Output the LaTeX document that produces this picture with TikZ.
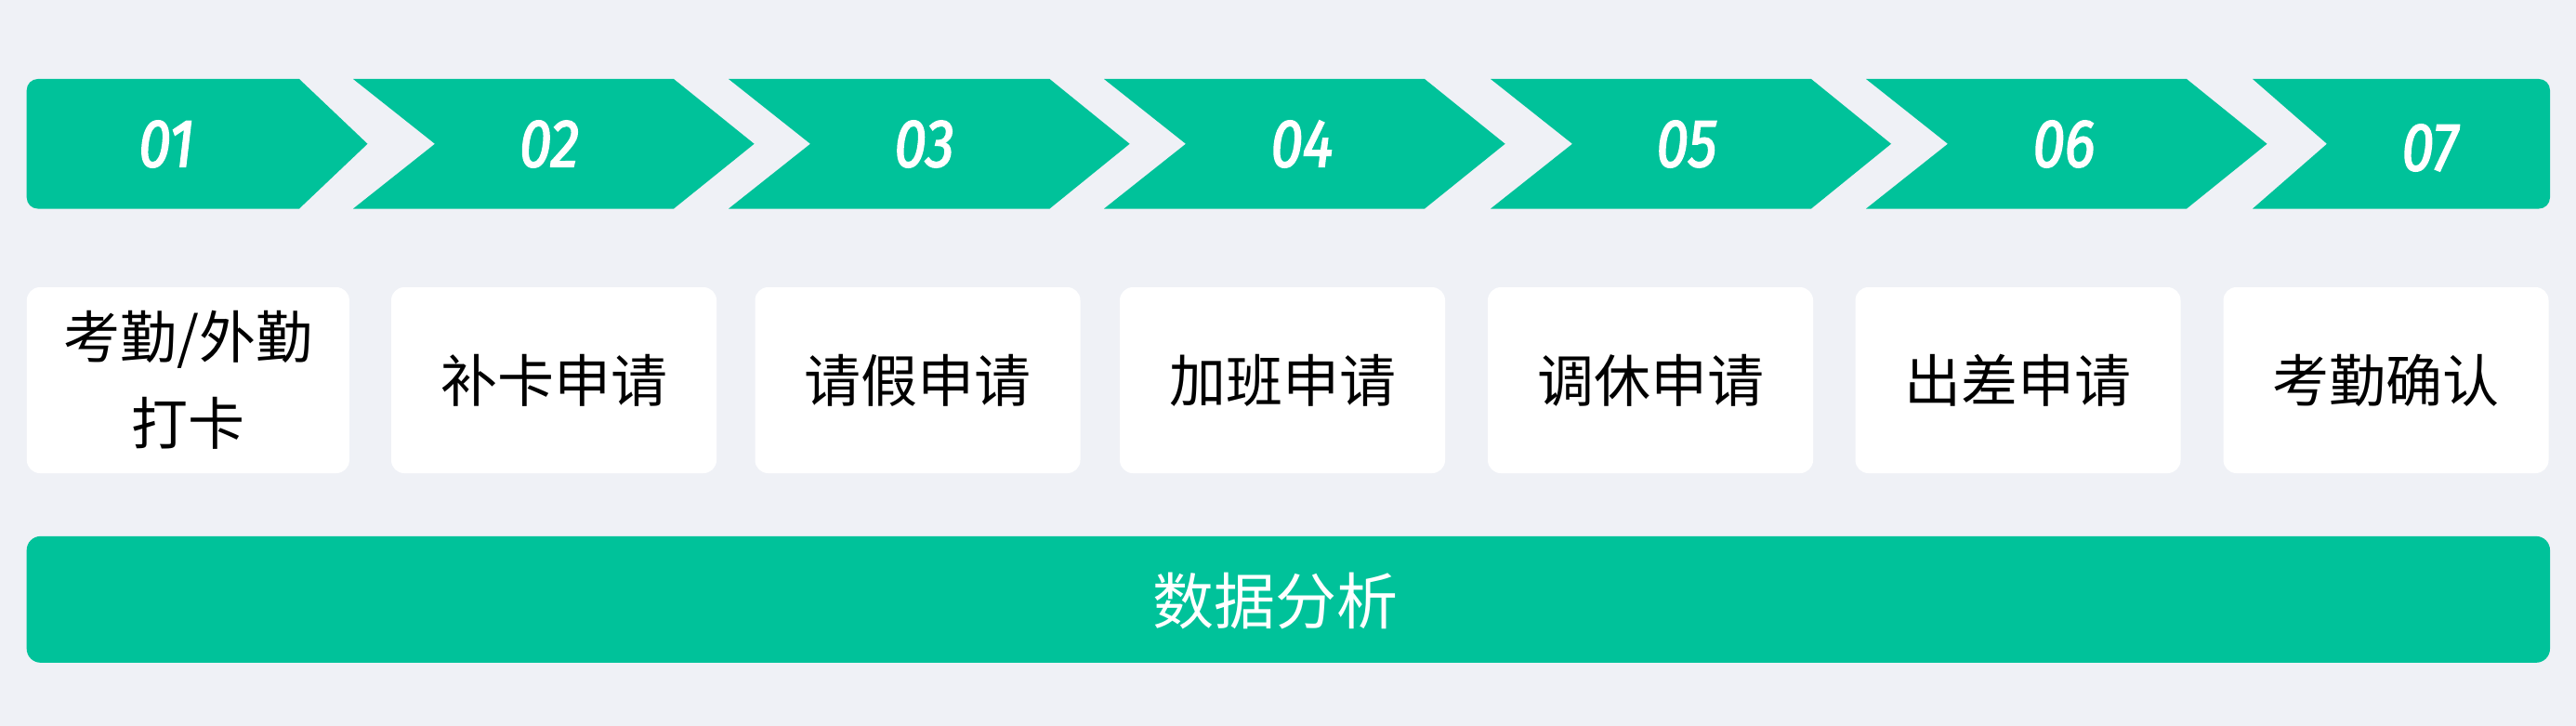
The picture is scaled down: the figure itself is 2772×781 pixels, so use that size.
\documentclass[tikz,border=0pt]{standalone}
\usepackage{fontspec}
\newfontfamily\cjk{Noto Sans CJK SC}
\newfontfamily\numfont{Fira Sans}[FakeStretch=0.85,FakeBold=2.2]
\definecolor{bgc}{RGB}{239,241,246}
\definecolor{grn}{RGB}{0,194,154}
\begin{document}
\begin{tikzpicture}[x=1pt,y=-1pt,
  num/.style={text=white,font=\numfont\itshape\fontsize{73}{73}\selectfont,inner sep=0pt,anchor=center},
  card/.style={fill=white,rounded corners=14pt,minimum width=350pt,minimum height=200pt,inner sep=0pt,
    align=center,font=\cjk\fontsize{61}{93}\selectfont,text=black},
  bar/.style={fill=grn,rounded corners=15pt,inner sep=0pt,minimum height=136pt,minimum width=2715.3pt},
  chev/.style={fill=grn}]
\fill[bgc] (0,0) rectangle (2772,781);
\useasboundingbox (0,0) rectangle (2772,781);
\def\T{85}\def\B{224.5}\def\M{154.75}
% chevrons
\fill[chev] (395.5,\M) -- (322,\B) [rounded corners=12pt] -- (28.7,\B) -- (28.7,\T) [sharp corners] -- (322,\T) -- cycle;
\fill[chev] (380,\T) -- (725,\T) -- (811.6,\M) -- (725,\B) -- (380,\B) -- (468,\M) -- cycle;
\fill[chev] (784,\T) -- (1129.5,\T) -- (1215.6,\M) -- (1129.5,\B) -- (784,\B) -- (872,\M) -- cycle;
\fill[chev] (1188,\T) -- (1533,\T) -- (1619.6,\M) -- (1533,\B) -- (1188,\B) -- (1276,\M) -- cycle;
\fill[chev] (1604,\T) -- (1949,\T) -- (2035,\M) -- (1949,\B) -- (1604,\B) -- (1692,\M) -- cycle;
\fill[chev] (2008,\T) -- (2353,\T) -- (2439.5,\M) -- (2353,\B) -- (2008,\B) -- (2096,\M) -- cycle;
\fill[chev] (2504,\M) -- (2424,\T) [rounded corners=12pt] -- (2744,\T) -- (2744,\B) [sharp corners] -- (2424,\B) -- cycle;
% numbers
\node[num] (n1) at (179,155) {01};
\node[num] (n2) at (591,155) {02};
\node[num] (n3) at (994.6,155) {03};
\node[num] (n4) at (1401,155) {04};
\node[num] (n5) at (1815,155) {05};
\node[num] (n6) at (2221,155) {06};
\node[num] (n7) at (2614.7,159) {07};
% cards
\node[card,minimum width=347pt] (c1) at (202.4,409) {考勤/外勤\\打卡};
\node[card] (c2) at (596,409) {补卡申请};
\node[card] (c3) at (987.5,409) {请假申请};
\node[card] (c4) at (1380,409) {加班申请};
\node[card] (c5) at (1776,409) {调休申请};
\node[card] (c6) at (2171.5,409) {出差申请};
\node[card] (c7) at (2567.5,409) {考勤确认};
% bottom bar
\node[bar] (db) at (1386.35,644.85) {};
\node[text=white,font=\cjk\fontsize{66}{66}\selectfont,inner sep=0pt] (dt) at (1372,646.5) {数据分析};
\end{tikzpicture}
\end{document}
